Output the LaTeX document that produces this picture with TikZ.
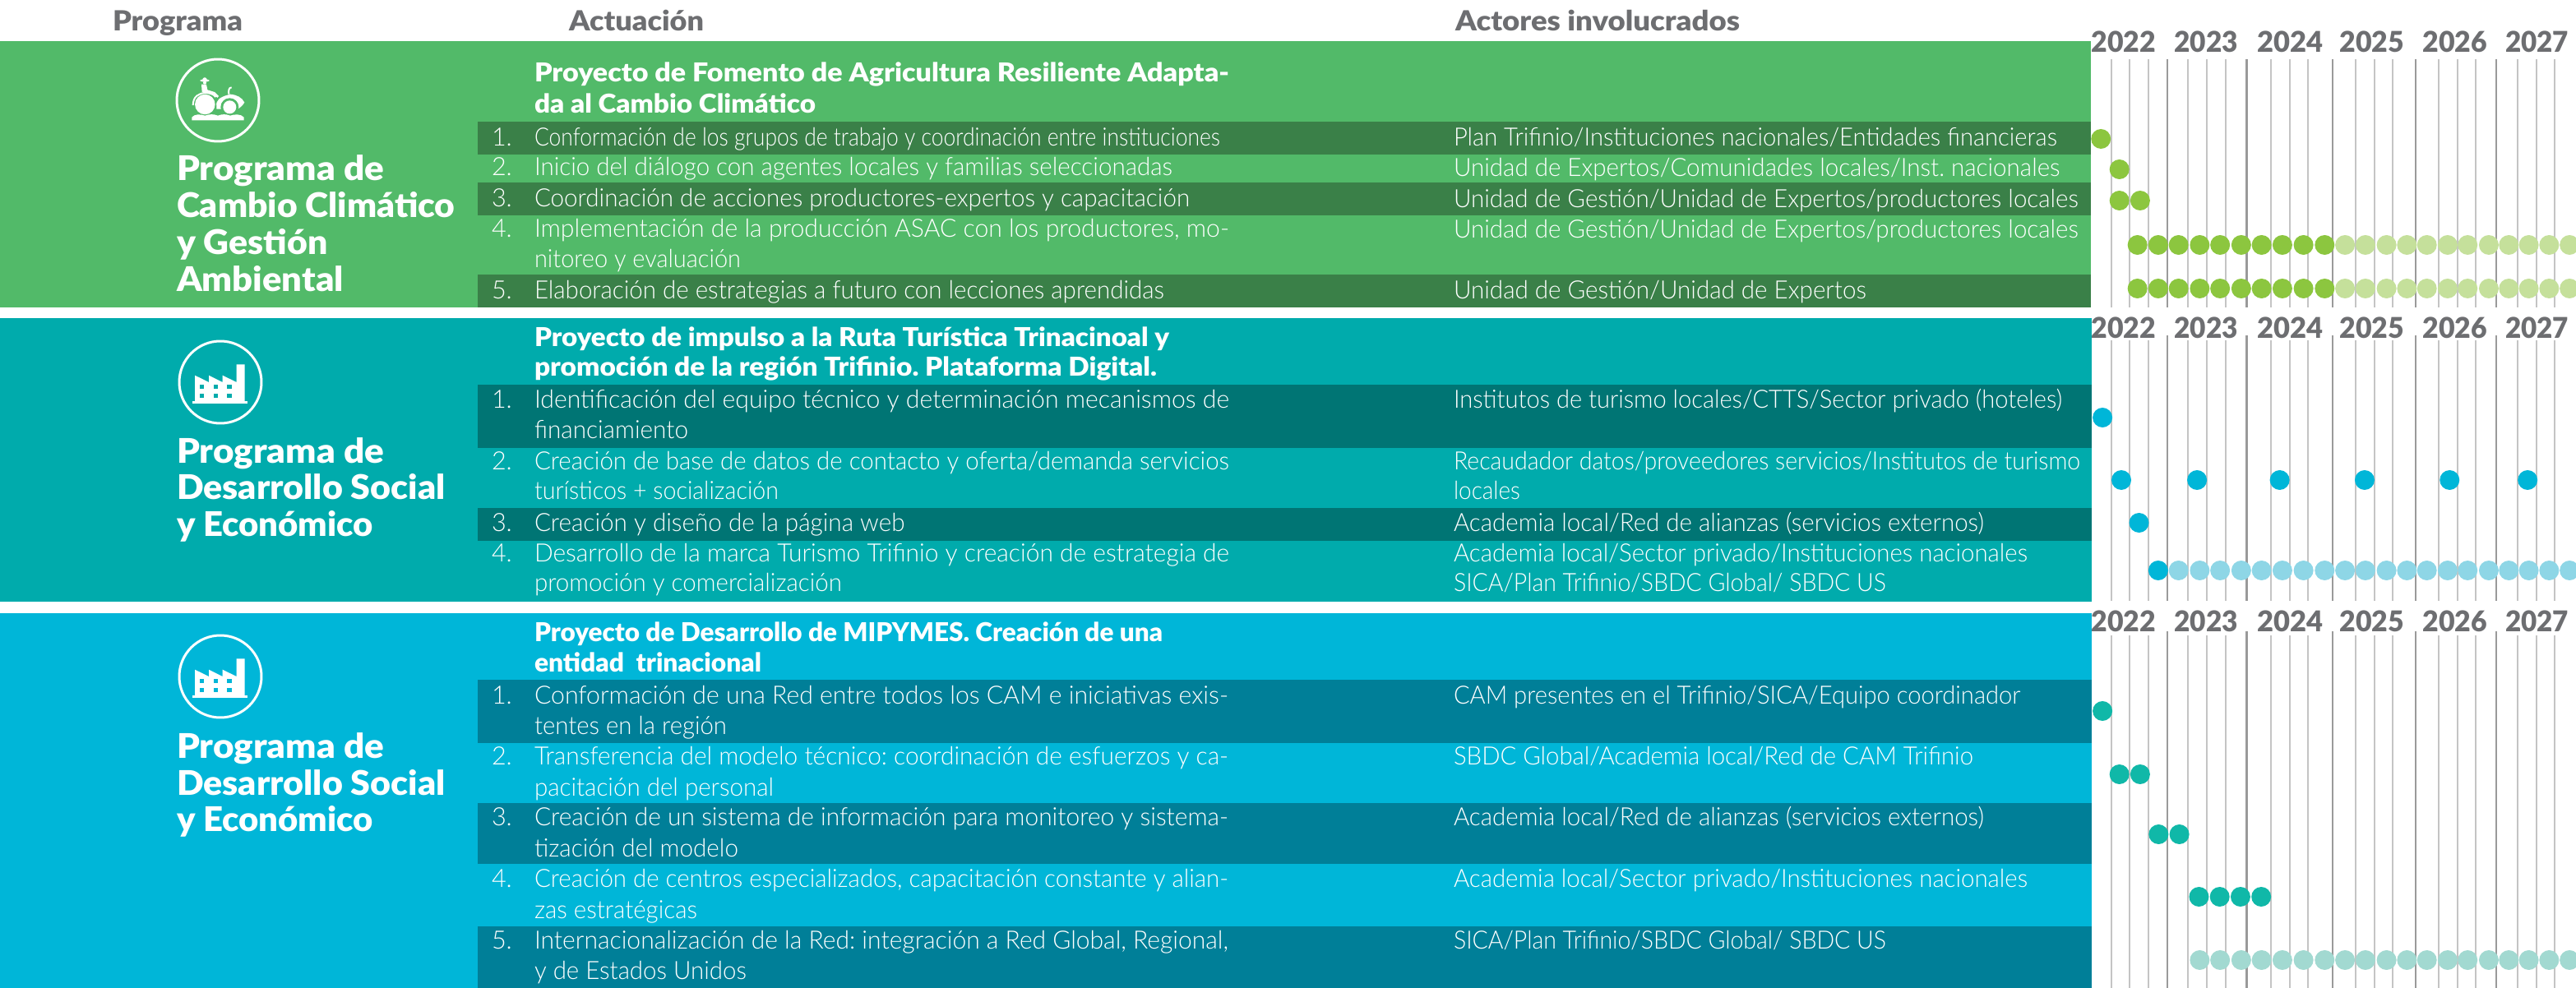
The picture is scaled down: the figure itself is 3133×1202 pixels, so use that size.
\documentclass[tikz,border=0pt]{standalone}
\usepackage{fontspec}
\usepackage{graphicx}
\newfontfamily\ltf{Lato Light}
\newfontfamily\bdf{Lato Black}
\frenchspacing
\definecolor{bandA}{HTML}{52BA69}\definecolor{darkA}{HTML}{3A8048}\definecolor{dotA}{HTML}{8CC63F}\definecolor{softA}{HTML}{C5E09B}
\definecolor{bandB}{HTML}{00ABAC}\definecolor{darkB}{HTML}{007574}\definecolor{dotB}{HTML}{00B6D8}\definecolor{softB}{HTML}{8ED6E6}
\definecolor{bandC}{HTML}{00B6D8}\definecolor{darkC}{HTML}{007F98}\definecolor{dotC}{HTML}{10B8A8}\definecolor{softC}{HTML}{A2D9D1}
\definecolor{inkgray}{HTML}{6D6E71}\definecolor{lineL}{HTML}{C4C4C4}\definecolor{lineD}{HTML}{9A9A9A}
\newcounter{tn}
\newsavebox\fitbox
\newcommand{\fitto}[2]{\sbox\fitbox{#2}\pgfmathsetmacro\fitr{(#1)*0.569055/\the\wd\fitbox}\scalebox{\fitr}[1]{\usebox\fitbox}}
% x, baseline y, right end x, style, text
\newcommand{\T}[5]{\stepcounter{tn}\node[#4] (t\arabic{tn}) at (#1,#2) {\fitto{#3-#1}{#5}};}
\newcommand{\N}[3]{\stepcounter{tn}\node[rowtxt] (t\arabic{tn}) at (598,#1) {#2#3};}
\tikzset{
  x=0.02cm,y=-0.02cm,
  base/.style={anchor=base west,inner sep=0pt,outer sep=0pt},
  rowtxt/.style={base,text=white,font=\ltf\fontsize{17.4}{19}\selectfont},
  protxt/.style={base,text=white,font=\bdf\fontsize{18}{20}\selectfont},
  tittxt/.style={base,text=white,font=\bdf\fontsize{23.5}{26}\selectfont},
  headtxt/.style={base,text=inkgray,font=\bdf\fontsize{19.2}{21}\selectfont},
  yeartxt/.style={base,text=inkgray,font=\bdf\fontsize{19.8}{21}\selectfont},
  lineS/.style={lineL,line width=2.2*0.02cm},
  lineH/.style={lineD,line width=2.2*0.02cm},
  iconring/.style={draw=white,line width=3*0.02cm},
}
\newcommand{\Years}[1]{%
 \T{2543.5}{#1}{2622}{yeartxt}{2022}\T{2644.5}{#1}{2722}{yeartxt}{2023}\T{2745}{#1}{2825}{yeartxt}{2024}%
 \T{2845.5}{#1}{2924}{yeartxt}{2025}\T{2946.5}{#1}{3025}{yeartxt}{2026}\T{3047}{#1}{3124}{yeartxt}{2027}}
\newcommand{\Grid}[3]{%
 \foreach \g in {2567.8,2590.3,2613.2,2661.3,2683.8,2706.7,2761.9,2784.8,2807.2,2865.2,2888.1,2910,2966.1,2988.6,3011,3062,3084.9,3107.3}
   \draw[lineS] (\g,#2) -- (\g,#3);
 \foreach \g in {2635.6,2732.4,2837.1,2937.6,3035.8}
   \draw[lineH] (\g,#1) -- (\g,#3);}
\newcommand{\Dots}[3]{\foreach \d in {#3} \fill[#1] ({2400+\d/2.139},#2) circle[radius=0.24cm];}
\newcommand{\Factory}[3]{%
 \begin{scope}[shift={(#1,#2)},x=0.00667cm,y=-0.00667cm]
  \draw[iconring] (0,0) circle[radius=1cm];
  \fill[white] (-103,70) rectangle (98,77);
  \fill[white] (-93,70) -- (-93,-25) -- (-42,0) -- (-42,-25) -- (8,0) -- (8,-25) -- (59,0) -- (59,-65) -- (89,-65) -- (89,70) -- cycle;
  \foreach \wx in {-75,-25,25}\foreach \wy in {10,42}
    \fill[#3] (\wx,\wy) rectangle ++(16,15);
 \end{scope}}
\begin{document}
\begin{tikzpicture}
\useasboundingbox (0,0) rectangle (3133,1202);
% bands
\fill[bandA] (0,50) rectangle (2543,374);
\fill[bandB] (0,387) rectangle (2544,732);
\fill[bandC] (0,746) rectangle (2544,1202);
\foreach \a/\b in {148/188,222/262,334/374} \fill[darkA] (581,\a) rectangle (2543,\b);
\foreach \a/\b in {468/545,618/658} \fill[darkB] (581,\a) rectangle (2544,\b);
\foreach \a/\b in {827/904,977/1051,1127/1202} \fill[darkC] (581,\a) rectangle (2544,\b);
% grid
\Grid{72}{72}{374}\Grid{408}{414}{731}\Grid{768}{773}{1202}
% headers
\T{137}{38}{295}{headtxt}{Programa}
\T{692}{38}{856}{headtxt}{Actuación}
\T{1770}{38}{2116}{headtxt}{Actores involucrados}
\Years{64}\Years{412}\Years{768}
% icon A: tractor
\begin{scope}[shift={(265,122)},x=0.00667cm,y=-0.00667cm]
  \draw[iconring] (0,0) circle[radius=1cm];
  \fill[white] (-5,22) .. controls (-8,0) and (5,-12) .. (45,-22) .. controls (70,-20) and (88,-10) .. (97,8) .. controls (90,20) and (80,28) .. (72,32) -- (-5,32) -- cycle;
  \fill[bandA] (43,25) circle[radius=0.22cm];
  \fill[white] (43,25) circle[radius=0.16cm];
  \fill[white] (-47,15) circle[radius=0.245cm];
  \draw[white,line width=0.04cm] (-91,18) .. controls (-90,-15) and (-70,-25) .. (-47,-27) .. controls (-30,-27) and (-15,-22) .. (-8,-12);
  \draw[white,line width=0.04cm] (40,-22) .. controls (38,-35) and (40,-47) .. (50,-47);
  \fill[white] (-95,73) -- (-95,62) .. controls (-85,50) and (-65,50) .. (-47,56) .. controls (-30,50) and (-15,50) .. (0,56) .. controls (15,50) and (30,50) .. (45,56) .. controls (60,50) and (85,50) .. (95,62) -- (95,73) -- cycle;
  \fill[white] (-48,-72) ellipse[x radius=0.117cm,y radius=0.03cm];
  \fill[white] (-48,-75) circle[radius=0.055cm];
  \fill[white] (-48,-64) circle[radius=0.04cm];
  \fill[white] (-60,-58) -- (-42,-58) -- (-38,-38) -- (-12,-30) -- (3,-15) -- (-2,-9) -- (-18,-24) -- (-58,-30) -- cycle;
\end{scope}
\Factory{268}{465}{bandB}
\Factory{268}{823}{bandC}
% titles
\T{215}{220}{467}{tittxt}{Programa de}
\T{215}{265}{553.6}{tittxt}{Cambio Climático}
\T{215}{310}{398.6}{tittxt}{y Gestión}
\T{215}{355}{418}{tittxt}{Ambiental}
\T{215}{563}{467}{tittxt}{Programa de}
\T{215}{607}{541.7}{tittxt}{Desarrollo Social}
\T{215}{652}{454}{tittxt}{y Económico}
\T{215}{922}{467}{tittxt}{Programa de}
\T{215}{967}{541.7}{tittxt}{Desarrollo Social}
\T{215}{1011}{454}{tittxt}{y Económico}
% band A
\T{650}{100}{1495}{protxt}{Proyecto de Fomento de Agricultura Resiliente Adapta-}
\T{650}{138}{992}{protxt}{da al Cambio Climático}
\N{178}{1}{.}\T{650}{178}{1484}{rowtxt}{Conformación de los grupos de trabajo y coordinación entre instituciones}
\N{214}{2}{.}\T{650}{214}{1426}{rowtxt}{Inicio del diálogo con agentes locales y familias seleccionadas}
\N{252}{3}{.}\T{650}{252}{1447}{rowtxt}{Coordinación de acciones productores-expertos y capacitación}
\N{289}{4}{.}\T{650}{289}{1495}{rowtxt}{Implementación de la producción ASAC con los productores, mo-}
\T{650}{326}{901}{rowtxt}{nitoreo y evaluación}
\N{364}{5}{.}\T{650}{364}{1416}{rowtxt}{Elaboración de estrategias a futuro con lecciones aprendidas}
\T{1768}{178}{2502}{rowtxt}{Plan Trifinio/Instituciones nacionales/Entidades financieras}
\T{1768}{215}{2505.6}{rowtxt}{Unidad de Expertos/Comunidades locales/Inst. nacionales}
\T{1768}{253}{2528}{rowtxt}{Unidad de Gestión/Unidad de Expertos/productores locales}
\T{1768}{290}{2528}{rowtxt}{Unidad de Gestión/Unidad de Expertos/productores locales}
\T{1768}{364}{2270}{rowtxt}{Unidad de Gestión/Unidad de Expertos}
% band B
\T{650}{422}{1422}{protxt}{Proyecto de impulso a la Ruta Turística Trinacinoal y}
\T{650}{458}{1407}{protxt}{promoción de la región Trifinio. Plataforma Digital.}
\N{497}{1}{.}\T{650}{497}{1495}{rowtxt}{Identificación del equipo técnico y determinación mecanismos de}
\T{650}{533}{837}{rowtxt}{financiamiento}
\N{571}{2}{.}\T{650}{571}{1495}{rowtxt}{Creación de base de datos de contacto y oferta/demanda servicios}
\T{650}{607}{947}{rowtxt}{turísticos + socialización}
\N{646}{3}{.}\T{650}{646}{1100.5}{rowtxt}{Creación y diseño de la página web}
\N{683}{4}{.}\T{650}{683}{1495}{rowtxt}{Desarrollo de la marca Turismo Trifinio y creación de estrategia de}
\T{650}{719}{1024}{rowtxt}{promoción y comercialización}
\T{1768}{497}{2508}{rowtxt}{Institutos de turismo locales/CTTS/Sector privado (hoteles)}
\T{1768}{571}{2530}{rowtxt}{Recaudador datos/proveedores servicios/Institutos de turismo}
\T{1768}{607}{1849}{rowtxt}{locales}
\T{1768}{646}{2413}{rowtxt}{Academia local/Red de alianzas (servicios externos)}
\T{1768}{683}{2466}{rowtxt}{Academia local/Sector privado/Instituciones nacionales}
\T{1768}{719}{2294}{rowtxt}{SICA/Plan Trifinio/SBDC Global/ SBDC US}
% band C
\T{650}{780}{1414}{protxt}{Proyecto de Desarrollo de MIPYMES. Creación de una}
\T{650}{817}{926}{protxt}{entidad\ \ trinacional}
\N{856}{1}{.}\T{650}{856}{1494}{rowtxt}{Conformación de una Red entre todos los CAM e iniciativas exis-}
\T{650}{893}{884}{rowtxt}{tentes en la región}
\N{930}{2}{.}\T{650}{930}{1494}{rowtxt}{Transferencia del modelo técnico: coordinación de esfuerzos y ca-}
\T{650}{968}{941}{rowtxt}{pacitación del personal}
\N{1004}{3}{.}\T{650}{1004}{1494}{rowtxt}{Creación de un sistema de información para monitoreo y sistema-}
\T{650}{1042}{898}{rowtxt}{tización del modelo}
\N{1079}{4}{.}\T{650}{1079}{1494}{rowtxt}{Creación de centros especializados, capacitación constante y alian-}
\T{650}{1117}{848}{rowtxt}{zas estratégicas}
\N{1154}{5}{.}\T{650}{1154}{1494}{rowtxt}{Internacionalización de la Red: integración a Red Global, Regional,}
\T{650}{1191}{908}{rowtxt}{y de Estados Unidos}
\T{1768}{856}{2457.5}{rowtxt}{CAM presentes en el Trifinio/SICA/Equipo coordinador}
\T{1768}{930}{2400}{rowtxt}{SBDC Global/Academia local/Red de CAM Trifinio}
\T{1768}{1004}{2413}{rowtxt}{Academia local/Red de alianzas (servicios externos)}
\T{1768}{1079}{2466}{rowtxt}{Academia local/Sector privado/Instituciones nacionales}
\T{1768}{1154}{2294}{rowtxt}{SICA/Plan Trifinio/SBDC Global/ SBDC US}
% dots A
\Dots{dotA}{169}{332}
\Dots{dotA}{206}{380}
\Dots{dotA}{244}{380,434}
\Dots{dotA}{298}{427,481,534,589,642,697,750,804,859,914}
\Dots{softA}{298}{967,1020,1075,1128,1180,1234,1286,1341,1393,1445,1498,1551}
\Dots{dotA}{351}{427,481,534,589,642,697,750,804,859,914}
\Dots{softA}{351}{967,1020,1075,1128,1180,1234,1286,1341,1393,1445,1498,1551}
% dots B
\Dots{dotB}{508}{336}
\Dots{dotB}{584}{385,582,797,1018,1239,1442}
\Dots{dotB}{636}{431}
\Dots{dotB}{694}{481}
\Dots{softB}{694}{534,589,642,697,750,804,859,914,967,1020,1075,1128,1180,1234,1286,1341,1393,1445,1498,1551}
% dots C
\Dots{dotC}{865}{336}
\Dots{dotC}{942}{380,434}
\Dots{dotC}{1015}{482,536}
\Dots{dotC}{1091}{587,641,695,749}
\Dots{softC}{1168}{589,642,697,750,804,859,914,967,1020,1075,1128,1180,1234,1286,1341,1393,1445,1498,1551}
\end{tikzpicture}
\end{document}
